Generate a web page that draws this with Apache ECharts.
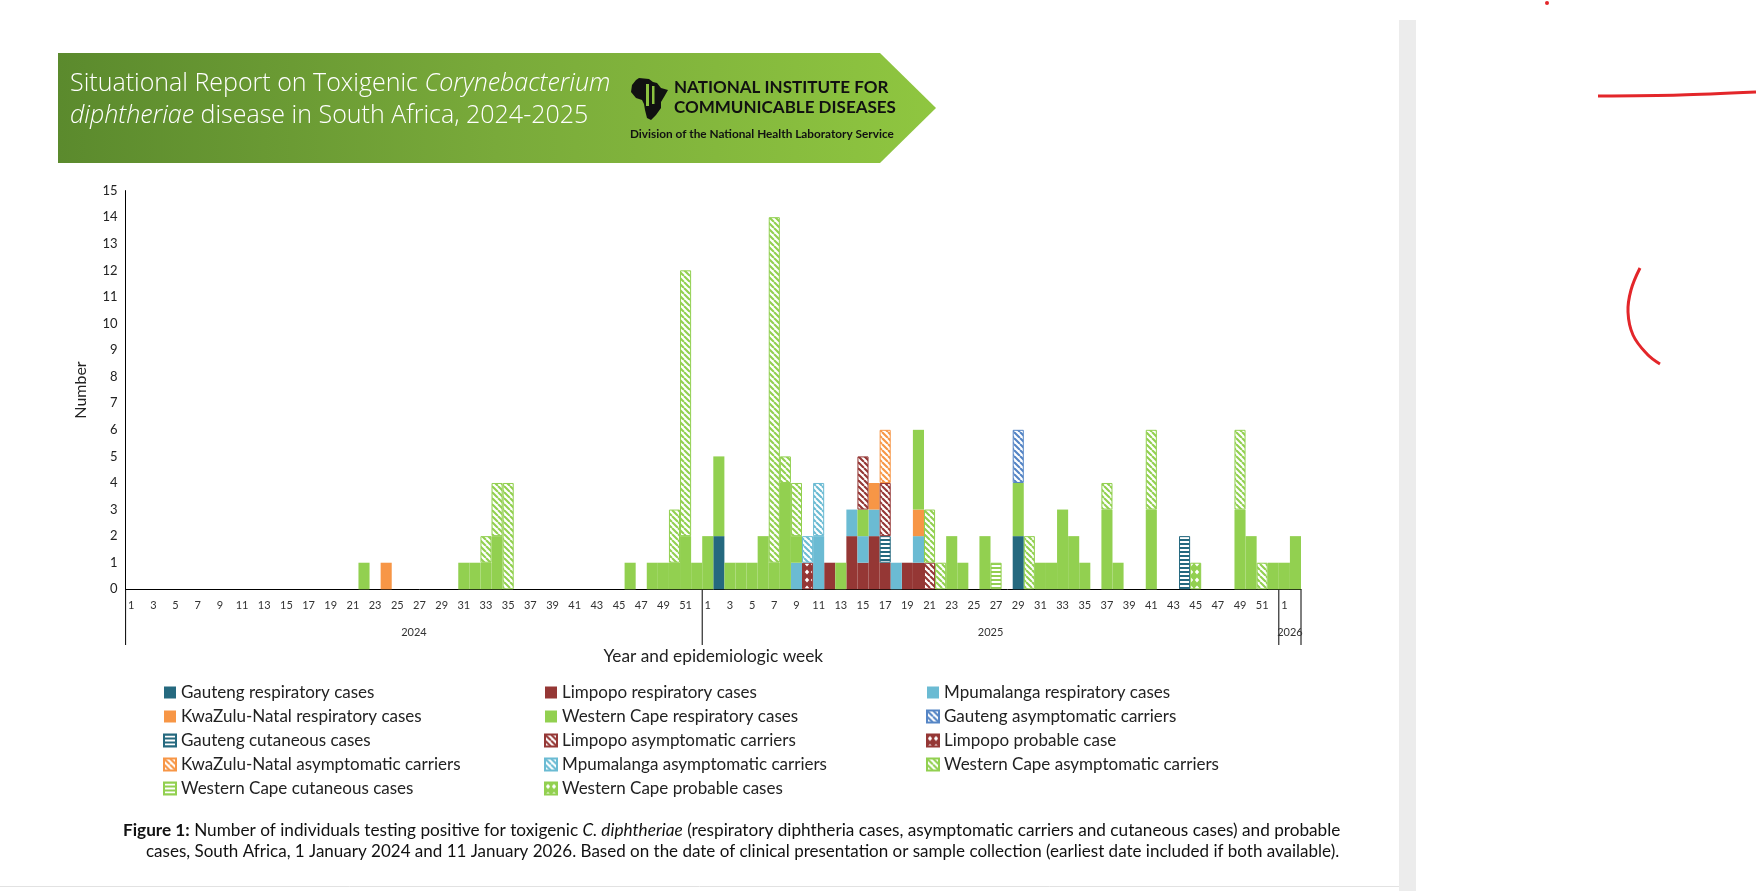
<!DOCTYPE html>
<html><head><meta charset="utf-8">
<script src="https://cdn.jsdelivr.net/npm/echarts@6/dist/echarts.min.js"></script>
<style>html,body{margin:0;padding:0;background:#fff;}#c{width:1758px;height:891px;}</style>
</head><body><div id="c"></div>
<script>
// ---------- DATA ----------
const years = [2024, 2025, 2026];
const weeksPerYear = [52, 52, 2];
const yMin = 0, yMax = 15, yStep = 1;

const gautengResp   = [["2025-2",2],["2025-29",2]];
const limpopoResp   = [["2025-12",1],["2025-14",2],["2025-15",1],["2025-16",2],["2025-17",1],["2025-19",1],["2025-20",1]];
const mpumalangaResp= [["2025-9",1],["2025-11",2],["2025-14",1],["2025-15",1],["2025-16",1],["2025-18",1],["2025-20",1]];
const kznResp       = [["2024-24",1],["2025-16",1],["2025-20",1]];
const wcResp        = [["2024-22",1],["2024-31",1],["2024-32",1],["2024-33",1],["2024-34",2],["2024-46",1],["2024-48",1],["2024-49",1],["2024-50",1],["2024-51",2],["2024-52",1],
                       ["2025-1",2],["2025-2",3],["2025-3",1],["2025-4",1],["2025-5",1],["2025-6",2],["2025-7",1],["2025-8",4],["2025-9",1],["2025-13",1],["2025-15",1],["2025-20",3],
                       ["2025-23",2],["2025-24",1],["2025-26",2],["2025-29",2],["2025-31",1],["2025-32",1],["2025-33",3],["2025-34",2],["2025-35",1],["2025-37",3],["2025-38",1],["2025-41",3],
                       ["2025-49",3],["2025-50",2],["2025-52",1],["2026-1",1],["2026-2",2]];
const gautengAsym   = [["2025-29",2]];
const gautengCut    = [["2025-17",1],["2025-44",2]];
const limpopoAsym   = [["2025-15",2],["2025-17",2],["2025-21",1]];
const limpopoProb   = [["2025-10",1]];
const kznAsym       = [["2025-17",2]];
const mpumalangaAsym= [["2025-10",1],["2025-11",2]];
const wcAsym        = [["2024-33",1],["2024-34",2],["2024-35",4],["2024-50",2],["2024-51",10],["2025-7",13],["2025-8",1],["2025-9",2],["2025-21",2],["2025-22",1],
                       ["2025-30",2],["2025-37",1],["2025-41",3],["2025-49",3],["2025-51",1]];
const wcCut         = [["2025-27",1]];
const wcProb        = [["2025-45",1]];

// ---------- helpers ----------
const categories = [];
years.forEach((y, k) => { for (let w = 1; w <= weeksPerYear[k]; w++) categories.push(y + '-' + w); });
function toData(pairs) {
  const arr = categories.map(() => '-');
  pairs.forEach(([k, v]) => { arr[categories.indexOf(k)] = v; });
  return arr;
}
function mk(w, h, draw) { const c = document.createElement('canvas'); c.width = w; c.height = h; draw(c.getContext('2d')); return {image: c, repeat: 'repeat'}; }
function hatch(col) {
  return mk(6, 6, g => { g.fillStyle = '#fff'; g.fillRect(0,0,6,6); g.strokeStyle = col; g.lineWidth = 2.1;
    g.beginPath(); g.moveTo(-6,0); g.lineTo(0,6); g.moveTo(0,0); g.lineTo(6,6); g.moveTo(6,0); g.lineTo(12,6); g.stroke(); });
}
function hstripe(col) {
  return mk(4, 4, g => { g.fillStyle = col; g.fillRect(0,0,4,4); g.fillStyle = '#fff'; g.fillRect(0,1,4,2); });
}
function diamonds(col) {
  return mk(6, 8, g => { g.fillStyle = col; g.fillRect(0,0,6,8); g.fillStyle = '#fff';
    g.beginPath(); g.moveTo(3,1.5); g.lineTo(5.2,4); g.lineTo(3,6.5); g.lineTo(0.8,4); g.closePath(); g.fill(); });
}

const C = {gau:'#25697F', lim:'#953735', mpu:'#6BBBD3', kzn:'#F79646', wc:'#92D050', gauA:'#5585C5'};
const FONT = 'Lato, "Open Sans", sans-serif';
const TFONT = '"Open Sans", Lato, sans-serif';

const defs = [
  {name:'Gauteng respiratory cases', d:gautengResp, color:C.gau},
  {name:'Limpopo respiratory cases', d:limpopoResp, color:C.lim},
  {name:'Mpumalanga respiratory cases', d:mpumalangaResp, color:C.mpu},
  {name:'KwaZulu-Natal respiratory cases', d:kznResp, color:C.kzn},
  {name:'Western Cape respiratory cases', d:wcResp, color:C.wc},
  {name:'Gauteng asymptomatic carriers', d:gautengAsym, color:hatch(C.gauA), border:C.gauA},
  {name:'Gauteng cutaneous cases', d:gautengCut, color:hstripe(C.gau), border:C.gau},
  {name:'Limpopo asymptomatic carriers', d:limpopoAsym, color:hatch(C.lim), border:C.lim},
  {name:'Limpopo probable case', d:limpopoProb, color:diamonds(C.lim), border:C.lim},
  {name:'KwaZulu-Natal asymptomatic carriers', d:kznAsym, color:hatch(C.kzn), border:C.kzn},
  {name:'Mpumalanga asymptomatic carriers', d:mpumalangaAsym, color:hatch(C.mpu), border:C.mpu},
  {name:'Western Cape asymptomatic carriers', d:wcAsym, color:hatch(C.wc), border:C.wc},
  {name:'Western Cape cutaneous cases', d:wcCut, color:hstripe(C.wc), border:C.wc},
  {name:'Western Cape probable cases', d:wcProb, color:diamonds(C.wc), border:C.wc}
];

const series = defs.map(s => ({
  name: s.name, type: 'bar', stack: 'all', barCategoryGap: '0%', data: toData(s.d),
  itemStyle: {color: s.color, borderColor: s.border || s.color, borderWidth: s.border ? 1 : 0},
  emphasis: {disabled: true}
}));

const cols = [
  ['Gauteng respiratory cases','KwaZulu-Natal respiratory cases','Gauteng cutaneous cases','KwaZulu-Natal asymptomatic carriers','Western Cape cutaneous cases'],
  ['Limpopo respiratory cases','Western Cape respiratory cases','Limpopo asymptomatic carriers','Mpumalanga asymptomatic carriers','Western Cape probable cases'],
  ['Mpumalanga respiratory cases','Gauteng asymptomatic carriers','Limpopo probable case','Western Cape asymptomatic carriers']
];
const colX = [163, 544, 926];

const chart = echarts.init(document.getElementById('c'));
const GRID = {left: 125.6, right: 1758 - 1301, top: 190.6, bottom: 891 - 589.3};
chart.setOption({
  animation: false,
  textStyle: {fontFamily: FONT},
  grid: GRID,
  xAxis: {type: 'category', data: categories, boundaryGap: true,
    axisLine: {lineStyle: {color: '#000', width: 1}}, axisTick: {show: false},
    axisLabel: {interval: 1, formatter: v => v.split('-')[1], fontSize: 11, color: '#333', margin: 11, fontFamily: FONT}},
  yAxis: {type: 'value', min: yMin, max: yMax, interval: yStep,
    axisLine: {show: true, lineStyle: {color: '#000', width: 1}}, axisTick: {show: false}, splitLine: {show: false},
    axisLabel: {fontSize: 13, color: '#222', margin: 8, fontFamily: FONT}},
  legend: cols.map((c, i) => ({
    data: c, left: colX[i], top: 684, padding: 0, orient: 'vertical', itemWidth: 12, itemHeight: 12, itemGap: 7,
    icon: 'rect', selectedMode: false,
    textStyle: {fontSize: 17, lineHeight: 17, color: '#222', fontFamily: FONT}
  })),
  series: series
});

// ---------- decorations positioned via the axis scale ----------
const px = i => chart.convertToPixel({xAxisIndex: 0}, i);
const bw = px(1) - px(0);
const yearBounds = [];
let start = 0;
weeksPerYear.forEach(n => { yearBounds.push([start, start + n - 1]); start += n; });
const lineXs = [px(0) - bw/2];
yearBounds.forEach(b => lineXs.push(px(b[1]) + bw/2));
const y0 = chart.convertToPixel({yAxisIndex: 0}, 0);

const g = [];
// page background bits
g.push({type:'rect', shape:{x:1399, y:20, width:17, height:871}, style:{fill:'#ececec'}, z:-10});
g.push({type:'line', shape:{x1:0, y1:886.5, x2:1399, y2:886.5}, style:{stroke:'#e2e2e2', lineWidth:1}});
// banner
g.push({type:'polygon', shape:{points:[[58,53],[880,53],[936,108],[880,163],[58,163]]},
  style:{fill: new echarts.graphic.LinearGradient(0,0,1,0,[{offset:0,color:'#5B8A2D'},{offset:0.5,color:'#79AA3A'},{offset:1,color:'#8FC640'}])}});
g.push({type:'text', left:70, top:71, style:{text:'Situational Report on Toxigenic {i|Corynebacterium}', fill:'#fff', font:'300 25px '+TFONT,
  rich:{i:{fontStyle:'italic', fontWeight:300, fontSize:25, fill:'#fff', fontFamily:TFONT}}}});
g.push({type:'text', left:70, top:103, style:{text:'{i|diphtheriae} disease in South Africa, 2024-2025', fill:'#fff', font:'300 25px '+TFONT,
  rich:{i:{fontStyle:'italic', fontWeight:300, fontSize:25, fill:'#fff', fontFamily:TFONT}}}});
// NICD logo
g.push({type:'polygon', shape:{points:[[639,78],[649,79],[653,82],[657,83],[661,88],[668,90],[664,97],[661,102],[661,108],[656,115],[651,120],[647,118],[645,110],[644,104],[642,100],[636,98],[631,92],[632,85],[636,80]]},
  style:{fill:'#111'}});
g.push({type:'rect', shape:{x:646, y:84, width:3, height:22}, style:{fill:'#8BC140'}});
g.push({type:'rect', shape:{x:652, y:86, width:2.5, height:18}, style:{fill:'#8BC140'}});
g.push({type:'text', left:674, top:79, style:{text:'NATIONAL INSTITUTE FOR', fill:'#111', font:'bold 17px '+FONT}});
g.push({type:'text', left:674, top:99, style:{text:'COMMUNICABLE DISEASES', fill:'#111', font:'bold 17px '+FONT}});
g.push({type:'text', left:630, top:128, style:{text:'Division of the National Health Laboratory Service', fill:'#111', font:'bold 11.8px '+FONT}});
// axis titles
g.push({type:'text', x:81, y:390, rotation:Math.PI/2, style:{text:'Number', fill:'#222', font:'16px '+FONT, align:'center', verticalAlign:'middle'}});
g.push({type:'text', x:(GRID.left + 1301)/2, y:656, style:{text:'Year and epidemiologic week', fill:'#222', font:'17.3px '+FONT, align:'center', verticalAlign:'middle'}});
// year separators and labels
lineXs.forEach(x => g.push({type:'line', shape:{x1:x, y1:y0, x2:x, y2:645}, style:{stroke:'#000', lineWidth:1}}));
yearBounds.forEach((b, k) => {
  const cx = (px(b[0]) + px(b[1])) / 2;
  g.push({type:'text', x:cx, y:632, style:{text:String(years[k]), fill:'#333', font:'11px '+FONT, align:'center', verticalAlign:'middle'}});
});
// caption
g.push({type:'text', left:123, top:822, style:{text:'{b|Figure 1:} Number of individuals testing positive for toxigenic {i|C. diphtheriae} (respiratory diphtheria cases, asymptomatic carriers and cutaneous cases) and probable',
  fill:'#111', font:'17.2px '+FONT, rich:{b:{fontWeight:'bold', fontSize:17.2, fontFamily:FONT, fill:'#111'}, i:{fontStyle:'italic', fontSize:17.2, fontFamily:FONT, fill:'#111'}}}});
g.push({type:'text', left:146, top:843, style:{text:'cases, South Africa, 1 January 2024 and 11 January 2026. Based on the date of clinical presentation or sample collection (earliest date included if both available).',
  fill:'#111', font:'17px '+FONT}});
// red annotation marks
g.push({type:'polyline', shape:{points:[[1598,96],[1680,95],[1756,92]], smooth:0.3}, style:{stroke:'#E3262A', lineWidth:3, fill:null}});
g.push({type:'polyline', shape:{points:[[1640,268],[1631,290],[1628,312],[1633,335],[1647,354],[1660,364]], smooth:0.4}, style:{stroke:'#E3262A', lineWidth:3, fill:null}});
g.push({type:'circle', shape:{cx:1547, cy:3, r:2}, style:{fill:'#E3262A'}});

chart.setOption({graphic: g});
</script></body></html>
